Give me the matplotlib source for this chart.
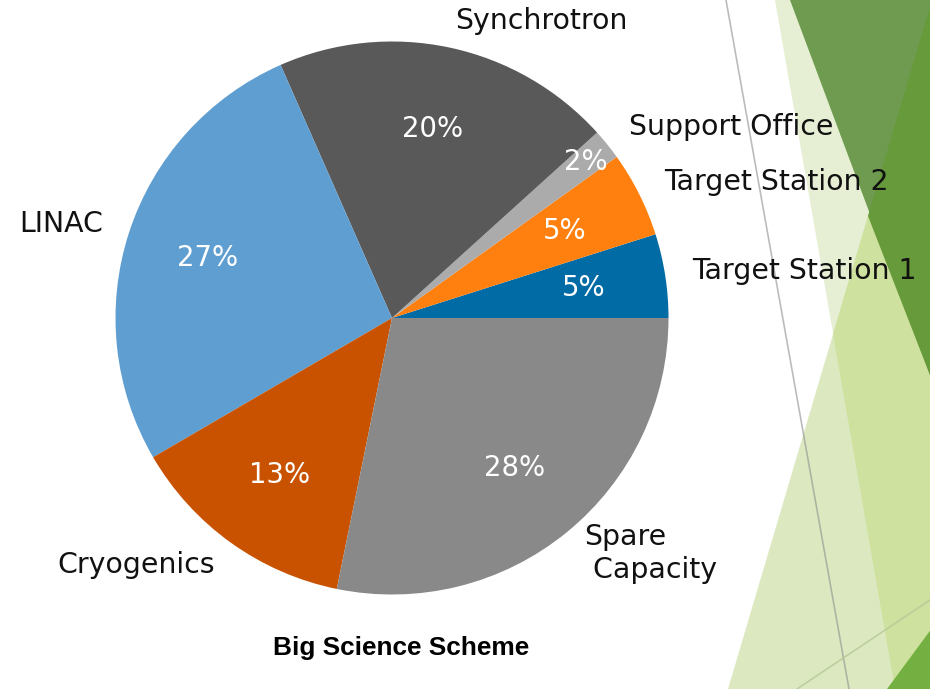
import matplotlib
matplotlib.use('Agg')
import numpy as np
import matplotlib.pyplot as plt
from matplotlib.patches import Polygon
from matplotlib.lines import Line2D

# data
labels = ['Target Station 1', 'Target Station 2', 'Support Office', 'Synchrotron',
          'LINAC', 'Cryogenics', 'Spare\n Capacity']
shares = [4.9, 5.0, 1.8, 19.9, 26.8, 13.4, 28.2]
colors = ['#006BA4', '#FF800E', '#ABABAB', '#595959', '#5F9ED1', '#C85200', '#898989']
title = 'Big Science Scheme'

plt.rcParams['font.family'] = ['DejaVu Sans']

W, H = 930, 689
fig = plt.figure(figsize=(W / 100, H / 100), dpi=100)
fig.patch.set_facecolor('white')


def px(pts):
    # slide pixel coords (y down) -> figure fraction
    return [(x / W, 1 - y / H) for x, y in pts]


# slide background decoration (green facets on the right)
shapes = [
    ([(775, 0), (935, 0), (935, 689), (895, 689)], '#e6efd4'),
    ([(728, 689), (932, 0), (935, 0), (935, 689)], '#dce9c0'),
    ([(932, 0), (935, 0), (935, 689), (895, 689), (833, 334)], '#cfe19e'),
    ([(790, 0), (935, 0), (935, 388)], '#6e9b4f'),
    ([(932, 0), (935, 0), (935, 388), (868, 216)], '#679a3b'),
    ([(887, 689), (935, 624), (935, 689)], '#74b041'),
]
for pts, c in shapes:
    fig.patches.append(Polygon(px(pts), closed=True, facecolor=c, edgecolor='none',
                               transform=fig.transFigure, zorder=0))

for (x0, y0), (x1, y1), c, a in [((726, 0), (849, 689), '#8f8f8f', 0.6),
                                 ((797, 689), (930, 600), '#b5c997', 0.8)]:
    fig.lines.append(Line2D([x0 / W, x1 / W], [1 - y0 / H, 1 - y1 / H], color=c, alpha=a,
                            lw=1.2, transform=fig.transFigure, zorder=1))

# pie axes: centre (392, 318), radius ~276 px
cx, cy, r = 392, 318, 276.5
ax = fig.add_axes([(cx - r) / W, 1 - (cy + r) / H, 2 * r / W, 2 * r / H])
ax.set_zorder(5)
ax.patch.set_visible(False)

wedges, texts, autotexts = ax.pie(shares, labels=labels, colors=colors, autopct='%1.0f%%',
                                  startangle=0, counterclock=True, labeldistance=1.1,
                                  pctdistance=0.7,
                                  textprops={'fontsize': 20.4, 'color': '#111111'})
for t in autotexts:
    t.set_color('white')
    t.set_fontsize(19.8)

# the small slice's label sits further out
w = wedges[2]
mid = np.deg2rad((w.theta1 + w.theta2) / 2)
autotexts[2].set_position((0.9 * np.cos(mid), 0.9 * np.sin(mid)))

ax.set_xlim(-1, 1)
ax.set_ylim(-1, 1)
ax.set_aspect('equal')
ax.axis('off')

fig.text(401 / W, 1 - 648 / H, title, ha='center', va='center', fontsize=18.9,
         fontweight='bold', family='Liberation Sans', zorder=6)

fig.savefig('out.png', dpi=100)
